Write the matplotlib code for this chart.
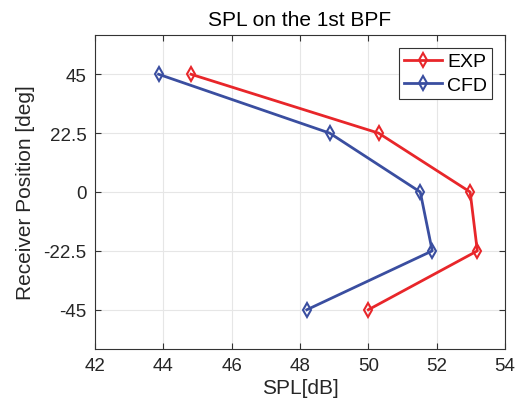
import matplotlib.pyplot as plt

plt.rcParams["font.family"] = ["Liberation Sans", "DejaVu Sans"]

positions = [45, 22.5, 0, -22.5, -45]
spl_exp = [44.81, 50.30, 52.98, 53.19, 50.00]
spl_cfd = [43.86, 48.87, 51.52, 51.87, 48.20]
ytick_labels = ["45", "22.5", "0", "-22.5", "-45"]

fig = plt.figure(figsize=(5.21, 4.14), dpi=100)
ax = fig.add_axes([95 / 521, 1 - 350 / 414, 410 / 521, 314 / 414])

ax.plot(spl_exp, positions, color="#e8262a", linewidth=2, marker="d",
        markersize=7, markerfacecolor="none", markeredgewidth=1.5, label="EXP")
ax.plot(spl_cfd, positions, color="#3a4ea0", linewidth=2, marker="d",
        markersize=7, markerfacecolor="none", markeredgewidth=1.5, label="CFD")

ax.set_xlim(42, 54)
ax.set_ylim(-60, 60)
ax.set_xticks(range(42, 55, 2))
ax.set_yticks(positions)
ax.set_yticklabels(ytick_labels)
ax.grid(True, color="#e6e6e6", linewidth=0.8)
ax.set_axisbelow(True)
ax.tick_params(direction="in", top=True, right=True, labelsize=13.5, length=4,
               color="#333333", labelcolor="#262626", pad=6)
for s in ax.spines.values():
    s.set_color("#333333")
    s.set_linewidth(0.8)

ax.set_xlabel("SPL[dB]", fontsize=15, color="#262626", labelpad=3)
ax.set_ylabel("Receiver Position [deg]", fontsize=15, color="#262626",
              labelpad=6)
ax.set_title("SPL on the 1st BPF", fontsize=15, pad=7)

leg = ax.legend(loc="upper right", fontsize=14, fancybox=False, framealpha=1,
                edgecolor="#333333", handlelength=1.95, handletextpad=0.25,
                borderpad=0.25, borderaxespad=0.67, labelspacing=0.29)
leg.get_frame().set_linewidth(0.8)

fig.savefig("out.png", dpi=100)
